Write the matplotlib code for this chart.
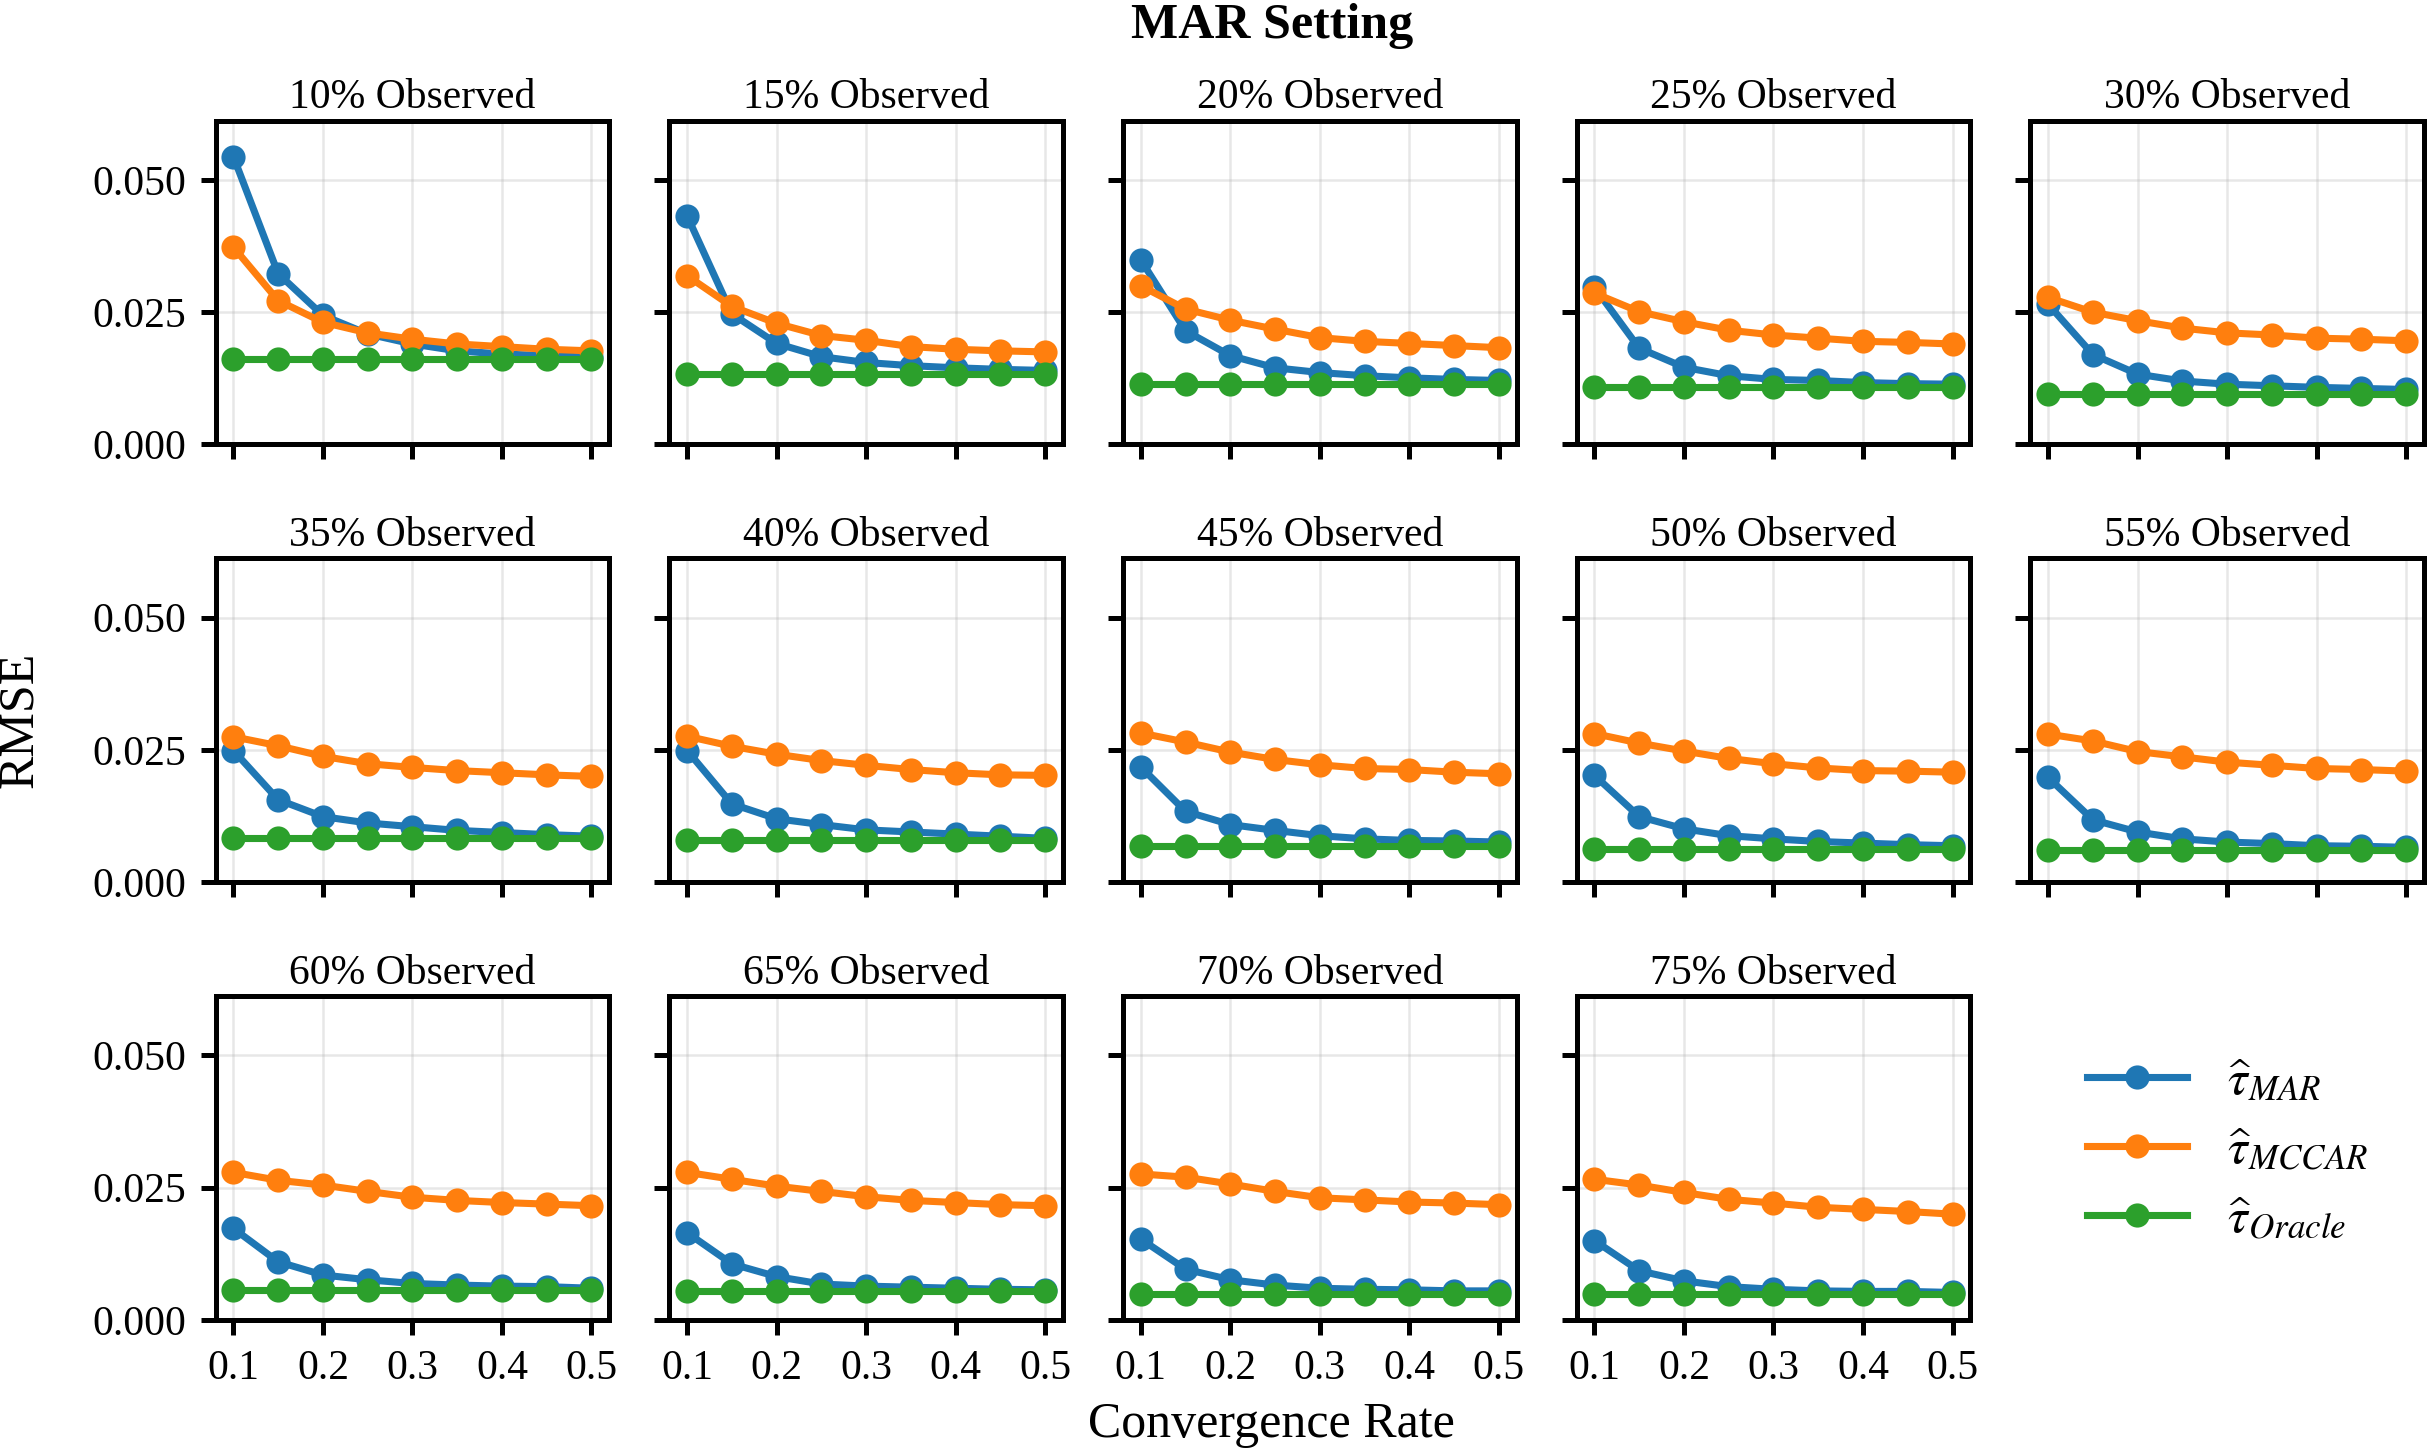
import matplotlib
matplotlib.use('Agg')
import matplotlib.pyplot as plt

plt.rcParams['font.family'] = ['Liberation Serif', 'DejaVu Serif']
plt.rcParams['mathtext.fontset'] = 'stix'
plt.rcParams['axes.linewidth'] = 1.2
plt.rcParams['xtick.major.width'] = 1.2
plt.rcParams['ytick.major.width'] = 1.2

rates = [0.1, 0.15, 0.2, 0.25, 0.3, 0.35, 0.4, 0.45, 0.5]
observed = [10, 15, 20, 25, 30, 35, 40, 45, 50, 55, 60, 65, 70, 75]

rmse_mar = [
    [0.0544, 0.0323, 0.0244, 0.0209, 0.0190, 0.0177, 0.0171, 0.0168, 0.0165],
    [0.0432, 0.0247, 0.0191, 0.0166, 0.0155, 0.0149, 0.0145, 0.0142, 0.0140],
    [0.0349, 0.0215, 0.0168, 0.0145, 0.0136, 0.0130, 0.0126, 0.0123, 0.0121],
    [0.0297, 0.0182, 0.0146, 0.0130, 0.0123, 0.0121, 0.0117, 0.0115, 0.0114],
    [0.0265, 0.0170, 0.0133, 0.0120, 0.0114, 0.0111, 0.0108, 0.0106, 0.0104],
    [0.0249, 0.0156, 0.0124, 0.0112, 0.0105, 0.0098, 0.0094, 0.0090, 0.0087],
    [0.0249, 0.0148, 0.0120, 0.0109, 0.0099, 0.0095, 0.0091, 0.0087, 0.0083],
    [0.0218, 0.0134, 0.0109, 0.0098, 0.0088, 0.0082, 0.0079, 0.0078, 0.0076],
    [0.0202, 0.0124, 0.0101, 0.0088, 0.0082, 0.0077, 0.0074, 0.0071, 0.0069],
    [0.0198, 0.0118, 0.0095, 0.0082, 0.0076, 0.0073, 0.0069, 0.0068, 0.0066],
    [0.0173, 0.0110, 0.0085, 0.0076, 0.0069, 0.0066, 0.0064, 0.0063, 0.0060],
    [0.0165, 0.0106, 0.0082, 0.0068, 0.0064, 0.0062, 0.0060, 0.0058, 0.0057],
    [0.0153, 0.0096, 0.0076, 0.0066, 0.0060, 0.0058, 0.0057, 0.0055, 0.0055],
    [0.0150, 0.0093, 0.0074, 0.0063, 0.0058, 0.0055, 0.0054, 0.0054, 0.0052],
]

rmse_mccar = [
    [0.0373, 0.0272, 0.0231, 0.0211, 0.0199, 0.0190, 0.0185, 0.0180, 0.0177],
    [0.0319, 0.0261, 0.0229, 0.0206, 0.0197, 0.0185, 0.0180, 0.0177, 0.0175],
    [0.0300, 0.0256, 0.0235, 0.0218, 0.0202, 0.0195, 0.0191, 0.0187, 0.0183],
    [0.0286, 0.0251, 0.0232, 0.0216, 0.0207, 0.0201, 0.0195, 0.0193, 0.0190],
    [0.0278, 0.0250, 0.0234, 0.0220, 0.0211, 0.0207, 0.0201, 0.0199, 0.0196],
    [0.0275, 0.0258, 0.0238, 0.0224, 0.0217, 0.0211, 0.0207, 0.0203, 0.0200],
    [0.0276, 0.0257, 0.0242, 0.0230, 0.0221, 0.0213, 0.0207, 0.0203, 0.0202],
    [0.0282, 0.0265, 0.0246, 0.0232, 0.0222, 0.0215, 0.0213, 0.0208, 0.0205],
    [0.0281, 0.0263, 0.0248, 0.0234, 0.0224, 0.0216, 0.0211, 0.0210, 0.0208],
    [0.0280, 0.0267, 0.0247, 0.0237, 0.0227, 0.0221, 0.0215, 0.0213, 0.0210],
    [0.0279, 0.0264, 0.0255, 0.0243, 0.0232, 0.0226, 0.0222, 0.0219, 0.0216],
    [0.0279, 0.0266, 0.0253, 0.0243, 0.0233, 0.0226, 0.0222, 0.0218, 0.0216],
    [0.0276, 0.0270, 0.0257, 0.0243, 0.0231, 0.0227, 0.0223, 0.0221, 0.0218],
    [0.0266, 0.0255, 0.0241, 0.0228, 0.0221, 0.0213, 0.0209, 0.0205, 0.0200],
]

rmse_oracle = [
    [0.0161, 0.0161, 0.0161, 0.0161, 0.0161, 0.0161, 0.0161, 0.0161, 0.0161],
    [0.0133, 0.0133, 0.0133, 0.0133, 0.0133, 0.0133, 0.0133, 0.0133, 0.0133],
    [0.0115, 0.0115, 0.0115, 0.0115, 0.0115, 0.0115, 0.0115, 0.0115, 0.0115],
    [0.0108, 0.0108, 0.0108, 0.0108, 0.0108, 0.0108, 0.0108, 0.0108, 0.0108],
    [0.0095, 0.0095, 0.0095, 0.0095, 0.0095, 0.0095, 0.0095, 0.0095, 0.0095],
    [0.0083, 0.0083, 0.0083, 0.0083, 0.0083, 0.0083, 0.0083, 0.0083, 0.0083],
    [0.0079, 0.0079, 0.0079, 0.0079, 0.0079, 0.0079, 0.0079, 0.0079, 0.0079],
    [0.0068, 0.0068, 0.0068, 0.0068, 0.0068, 0.0068, 0.0068, 0.0068, 0.0068],
    [0.0063, 0.0063, 0.0063, 0.0063, 0.0063, 0.0063, 0.0063, 0.0063, 0.0063],
    [0.0061, 0.0061, 0.0061, 0.0061, 0.0061, 0.0061, 0.0061, 0.0061, 0.0061],
    [0.0057, 0.0057, 0.0057, 0.0057, 0.0057, 0.0057, 0.0057, 0.0057, 0.0057],
    [0.0054, 0.0054, 0.0054, 0.0054, 0.0054, 0.0054, 0.0054, 0.0054, 0.0054],
    [0.0050, 0.0050, 0.0050, 0.0050, 0.0050, 0.0050, 0.0050, 0.0050, 0.0050],
    [0.0049, 0.0049, 0.0049, 0.0049, 0.0049, 0.0049, 0.0049, 0.0049, 0.0049],
]

labels = [r'$\widehat{\tau}_{MAR}$', r'$\widehat{\tau}_{MCCAR}$', r'$\widehat{\tau}_{Oracle}$']
colors = ['tab:blue', 'tab:orange', 'tab:green']

fig, axes = plt.subplots(3, 5, figsize=(2427 / 300, 1451 / 300), dpi=300, sharey=True)
fig.subplots_adjust(left=0.0888, right=0.9988, top=0.9168, bottom=0.0903,
                    wspace=0.152, hspace=0.352)

for i, pct in enumerate(observed):
    ax = axes.flat[i]
    series = [rmse_mar[i], rmse_mccar[i], rmse_oracle[i]]
    for vals, lab, col in zip(series, labels, colors):
        ax.plot(rates, vals, marker='o', color=col, lw=1.7, ms=4.8, label=lab)
    ax.set_title(f'{pct}% Observed', fontsize=10, pad=3)
    ax.set_ylim(0, 0.0612)
    ax.set_yticks([0.0, 0.025, 0.05])
    ax.set_xticks([0.1, 0.2, 0.3, 0.4, 0.5])
    ax.grid(True, color='#b0b0b0', alpha=0.3, lw=0.6)
    ax.tick_params(labelsize=10)
    if i < 10:
        ax.set_xticklabels([])
    ax.yaxis.set_major_formatter(matplotlib.ticker.FormatStrFormatter('%.3f'))

# last slot holds the legend
leg_ax = axes.flat[14]
leg_ax.axis('off')
handles, labs = axes.flat[0].get_legend_handles_labels()
leg_ax.legend(handles, labs, loc='center', frameon=False, fontsize=12,
              labelspacing=0.45, handlelength=2.0, bbox_to_anchor=(0.5, 0.52))

fig.text(0.524, 0.982, 'MAR Setting', ha='center', va='center',
         fontsize=12, fontweight='bold')
fig.text(0.524, 0.018, 'Convergence Rate', ha='center', va='center', fontsize=12)
fig.text(0.008, 0.504, 'RMSE', ha='center', va='center', rotation=90, fontsize=12)

fig.savefig('out.png', dpi=300)
